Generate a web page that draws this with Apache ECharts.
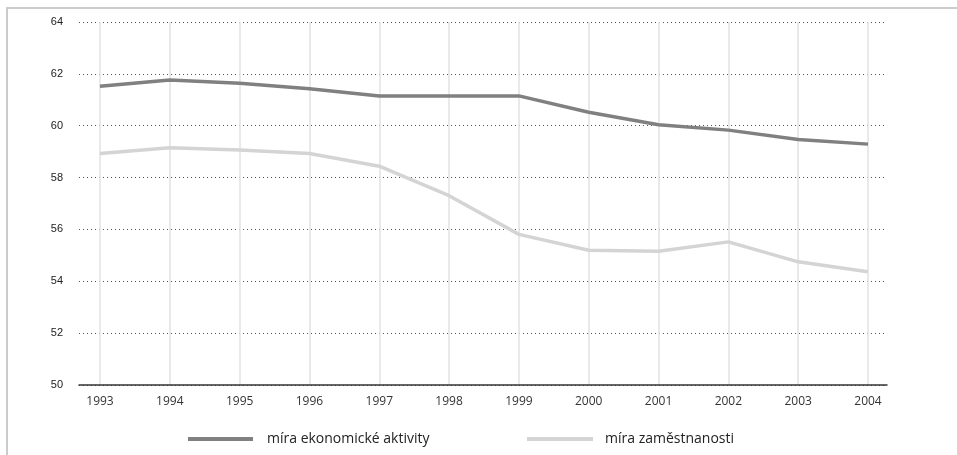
<!DOCTYPE html>
<html>
<head>
<meta charset="utf-8">
<script src="https://cdn.jsdelivr.net/npm/echarts@6/dist/echarts.min.js"></script>
<style>
html,body{margin:0;padding:0;background:#fff;overflow:hidden}
#c{width:957px;height:455px;position:relative}
#frame{position:absolute;left:6px;top:7px;width:960px;height:460px;border-top:2px solid #cccccc;border-left:2px solid #cccccc;pointer-events:none;z-index:10}
</style>
</head>
<body>
<div id="c"></div>
<div id="frame"></div>
<script>
const years = ['1993','1994','1995','1996','1997','1998','1999','2000','2001','2002','2003','2004'];
const activityName = 'míra ekonomické aktivity';
const employmentName = 'míra zaměstnanosti';
const activity = [61.52, 61.76, 61.64, 61.43, 61.15, 61.15, 61.15, 60.52, 60.04, 59.83, 59.47, 59.29];
const employment = [58.93, 59.15, 59.06, 58.93, 58.44, 57.30, 55.81, 55.20, 55.16, 55.52, 54.75, 54.37];
const yMin = 50, yMax = 64, yStep = 2;

const chart = echarts.init(document.getElementById('c'));
chart.setOption({
  animation: false,
  backgroundColor: '#fff',
  grid: [
    { left: 79, right: 70, top: 22, bottom: 70 },
    { left: 100, right: 89, top: 22, bottom: 70 }
  ],
  xAxis: [
    { type: 'value', gridIndex: 0, min: 0, max: 1, z: 10,
      axisLine: { show: true, lineStyle: { color: '#333', width: 1.5 } },
      axisTick: { show: false }, axisLabel: { show: false }, splitLine: { show: false } },
    { type: 'category', gridIndex: 1, data: years, boundaryGap: false,
      axisLine: { show: false }, axisTick: { show: false },
      axisLabel: { margin: 11, fontSize: 12, color: '#333', fontFamily: 'Open Sans' },
      splitLine: { show: true, lineStyle: { color: '#e2e2e2', width: 1.5 } } }
  ],
  yAxis: [
    { type: 'value', gridIndex: 0, min: yMin, max: yMax, interval: yStep,
      axisLine: { show: false }, axisTick: { show: false },
      axisLabel: { margin: 16, fontSize: 11, color: '#222', fontFamily: 'Liberation Sans' },
      splitLine: { show: true, lineStyle: { color: '#555', type: [1, 3], width: 1 } } },
    { type: 'value', gridIndex: 1, min: yMin, max: yMax, interval: yStep, show: false,
      splitLine: { show: false } }
  ],
  legend: [
    { left: 183, top: 427, data: [activityName], icon: 'rect', itemWidth: 65, itemHeight: 4,
      textStyle: { fontSize: 14, color: '#222', fontFamily: 'Open Sans', padding: [0, 0, 0, 9] } },
    { left: 522, top: 427, data: [employmentName], icon: 'rect', itemWidth: 66, itemHeight: 4,
      textStyle: { fontSize: 14, color: '#222', fontFamily: 'Open Sans', padding: [0, 0, 0, 7] } }
  ],
  series: [
    { name: activityName, type: 'line', xAxisIndex: 1, yAxisIndex: 1, data: activity,
      symbol: 'none', lineStyle: { color: '#808080', width: 3.5 }, itemStyle: { color: '#808080' } },
    { name: employmentName, type: 'line', xAxisIndex: 1, yAxisIndex: 1, data: employment,
      symbol: 'none', lineStyle: { color: '#d4d4d4', width: 3.5 }, itemStyle: { color: '#d4d4d4' } }
  ]
});
</script>
</body>
</html>
